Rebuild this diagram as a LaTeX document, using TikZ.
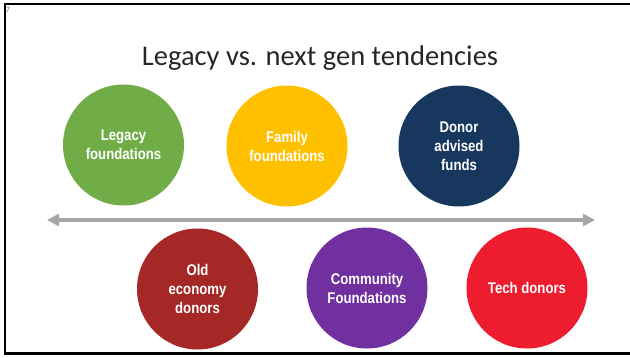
\documentclass[tikz,border=0pt]{standalone}
\usepackage{fontspec}
\setmainfont{Carlito}
\newfontfamily\bubblefont{Liberation Sans}[FakeStretch=0.85]
\usepackage{tikz}
\usetikzlibrary{arrows.meta}

\definecolor{legacygreen}{RGB}{112,173,71}
\definecolor{familyyellow}{RGB}{255,192,0}
\definecolor{donornavy}{RGB}{23,55,94}
\definecolor{olddarkred}{RGB}{165,40,38}
\definecolor{commpurple}{RGB}{112,48,160}
\definecolor{techred}{RGB}{237,28,46}
\definecolor{axisgray}{RGB}{166,166,166}

\tikzset{
  bubble/.style={circle, minimum size=121pt, inner sep=0pt, text=white, align=center,
    font=\bubblefont\bfseries\fontsize{15.5}{19}\selectfont},
  spectrum/.style={axisgray, line width=3.5pt, {Triangle[length=12pt,width=12pt]}-{Triangle[length=12pt,width=12pt]}}
}

\begin{document}
\begin{tikzpicture}[x=1pt,y=-1pt]
        \useasboundingbox (0,0) rectangle (630,357);

        % Slide frame
        \draw[black, line width=2.5pt] (632,4) -- (5,4) -- (5,353.5) -- (632,353.5);
        \node[text=gray, font=\fontsize{8}{8}\selectfont, inner sep=0pt] (slidenum) at (8,10) {7};

        % Title
        \node[anchor=base, font=\fontsize{28.5}{30}\selectfont, text=black!85] (title) at (320,65) {Legacy vs. next gen tendencies};

        % Legacy side (top row)
        \node[bubble, fill=legacygreen] (legacy) at (123.5,145) {Legacy\\foundations};
        \node[bubble, fill=familyyellow] (family) at (287,146) {Family\\foundations};
        \node[bubble, fill=donornavy] (donor) at (459,146) {Donor\\advised\\funds};

        % Next gen side (bottom row)
        \node[bubble, fill=olddarkred] (oldeconomy) at (197.5,289) {Old\\economy\\donors};
        \node[bubble, fill=commpurple] (community) at (367,288) {Community\\Foundations};
        \node[bubble, fill=techred] (tech) at (527,288) {Tech donors};

        % Draw the arrow
        \coordinate (leftend) at (47,220);
        \coordinate (rightend) at (595,220);
        \draw[spectrum] (leftend) -- (rightend);
\end{tikzpicture}
\end{document}
